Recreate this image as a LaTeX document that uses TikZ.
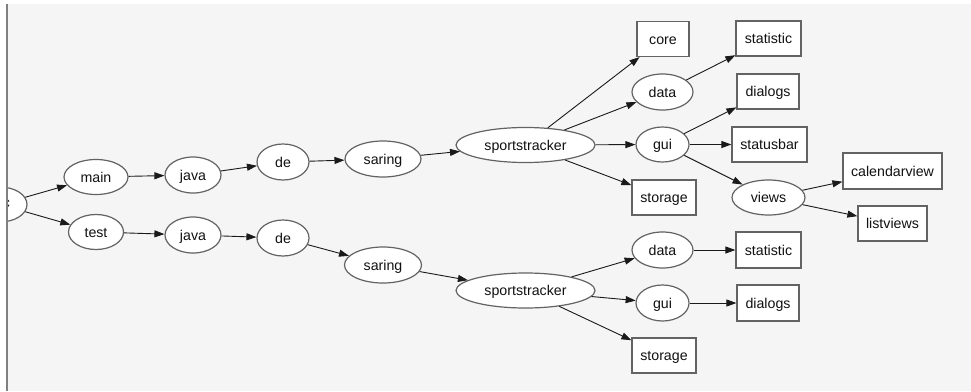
\documentclass[tikz,border=0pt]{standalone}
\usepackage{fontspec}
\setmainfont{Liberation Sans}
\usetikzlibrary{arrows.meta,shapes.geometric}
\definecolor{canvas}{HTML}{F5F5F5}
\definecolor{nodeborder}{HTML}{636363}
\definecolor{edgecol}{HTML}{1A1A1A}
\definecolor{frameline}{HTML}{808080}
\definecolor{labeltext}{HTML}{111111}
\begin{document}
\begin{tikzpicture}[x=1pt,y=-1pt,
  every node/.style={font=\fontsize{14.2}{16}\selectfont, text=labeltext},
  pkg/.style={ellipse, draw=nodeborder, fill=white, line width=1.2pt, inner sep=0pt,
              minimum height=35pt, text height=12pt, text depth=1.4pt},
  leaf/.style={rectangle, draw=nodeborder, fill=white, line width=1.2pt, inner sep=0pt,
               minimum height=35pt, text height=12pt, text depth=1.4pt},
  dep/.style={draw=edgecol, line width=0.9pt, -{Triangle[length=10pt,width=7pt]}}]

% page and canvas
\useasboundingbox (0,0) rectangle (971,391);
\fill[white] (0,0) rectangle (971,391);
\fill[canvas] (7,4) rectangle (971,391);

\begin{scope}
\clip (7.6,4) rectangle (971,391);

% root (partly outside the view)
\node[pkg, minimum width=54pt] (src) at (0,204.5) {};
\node[inner sep=0pt] (srctail) at (6.4,204.2) {c};

% main branch
\node[pkg, minimum width=64pt] (main) at (96,177) {main};
\node[pkg, minimum width=56pt, minimum height=36pt] (javaA) at (193,175) {java};
\node[pkg, minimum width=52pt, minimum height=36pt] (deA) at (283,162) {de};
\node[pkg, minimum width=76pt, minimum height=36pt] (saringA) at (383,159) {saring};
\node[pkg, minimum width=139pt] (stA) at (525.5,145) {sportstracker};
\node[leaf, minimum width=52pt] (core) at (663,39) {core};
\node[pkg, minimum width=61pt, minimum height=36pt] (dataA) at (662.5,92) {data};
\node[pkg, minimum width=53pt] (guiA) at (662.5,144.5) {gui};
\node[leaf, minimum width=64pt] (storageA) at (664,197.5) {storage};
\node[leaf, minimum width=65pt] (statA) at (768.5,38.5) {statistic};
\node[leaf, minimum width=62pt] (dialA) at (768,91.5) {dialogs};
\node[leaf, minimum width=75pt] (statusbar) at (769.5,144.5) {statusbar};
\node[pkg, minimum width=73pt] (views) at (768.5,197.5) {views};
\node[leaf, minimum width=99pt, minimum height=36pt] (calendar) at (892.5,171) {calendarview};
\node[leaf, minimum width=69pt] (listviews) at (892.5,223.5) {listviews};

% test branch
\node[pkg, minimum width=55pt] (test) at (96,232) {test};
\node[pkg, minimum width=56pt, minimum height=36pt] (javaB) at (193,235) {java};
\node[pkg, minimum width=52pt, minimum height=36pt] (deB) at (283,238) {de};
\node[pkg, minimum width=77pt, minimum height=36pt] (saringB) at (383,265) {saring};
\node[pkg, minimum width=139pt] (stB) at (525.5,290.5) {sportstracker};
\node[pkg, minimum width=61pt, minimum height=36pt] (dataB) at (662.5,250) {data};
\node[pkg, minimum width=53pt, minimum height=36pt] (guiB) at (662.5,303) {gui};
\node[leaf, minimum width=64pt] (storageB) at (664,355.5) {storage};
\node[leaf, minimum width=65pt, minimum height=36pt] (statB) at (768.5,250) {statistic};
\node[leaf, minimum width=62pt, minimum height=36pt] (dialB) at (768,303) {dialogs};

% dependencies
\draw[dep] (src) -- (main);
\draw[dep] (src) -- (test);
\draw[dep] (main) -- (javaA);
\draw[dep] (javaA) -- (deA);
\draw[dep] (deA) -- (saringA);
\draw[dep] (saringA) -- (stA);
\draw[dep] (stA) -- (core);
\draw[dep] (stA) -- (dataA);
\draw[dep] (stA) -- (guiA);
\draw[dep] (stA) -- (storageA);
\draw[dep] (dataA) -- (statA);
\draw[dep] (guiA) -- (dialA);
\draw[dep] (guiA) -- (statusbar);
\draw[dep] (guiA) -- (views);
\draw[dep] (views) -- (calendar);
\draw[dep] (views) -- (listviews);

\draw[dep] (test) -- (javaB);
\draw[dep] (javaB) -- (deB);
\draw[dep] (deB) -- (saringB);
\draw[dep] (saringB) -- (stB);
\draw[dep] (stB) -- (dataB);
\draw[dep] (stB) -- (guiB);
\draw[dep] (stB) -- (storageB);
\draw[dep] (dataB) -- (statB);
\draw[dep] (guiB) -- (dialB);
\end{scope}

% left edge of the view
\draw[frameline, line width=1.3pt] (7,4) -- (7,391);
\end{tikzpicture}
\end{document}
